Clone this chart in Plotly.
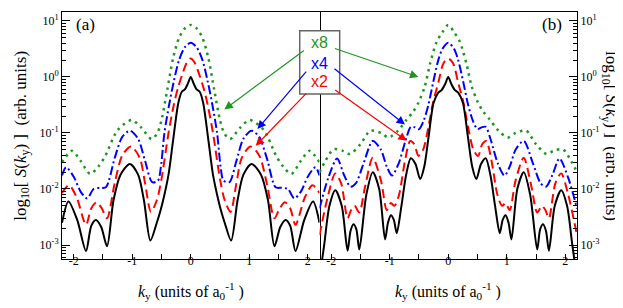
import plotly.graph_objects as go

# ---------------- Panel (a) data ----------------
ka_black = [-2.2, -2.09, -1.94, -1.79, -1.70, -1.62, -1.53, -1.43, -1.32, -1.2, -1.04, -0.9, -0.8, -0.69, -0.58, -0.52,
            -0.45, -0.38, -0.3, -0.21, -0.15, -0.1, -0.05, 0, 0.05, 0.1, 0.15, 0.21, 0.3, 0.38, 0.45, 0.52, 0.58, 0.69,
            0.8, 0.9, 1.04, 1.2, 1.32, 1.43, 1.53, 1.62, 1.70, 1.79, 1.94, 2.09, 2.2]
Sa_black = [2.5e-3, 6.0e-3, 2.8e-3, 7.8e-4, 2.2e-3, 2.8e-3, 2.1e-3, 9.5e-4, 6.3e-3, 1.8e-2, 2.8e-2, 1.8e-2, 6.3e-3,
            1.2e-3, 2.5e-3, 4.0e-3, 7.9e-3, 1.8e-2, 7.6e-2, 0.355, 0.55, 0.6, 0.76, 1.0, 0.76, 0.6, 0.55, 0.355,
            7.6e-2, 1.8e-2, 7.9e-3, 4.0e-3, 2.5e-3, 1.2e-3, 6.3e-3, 1.8e-2, 2.8e-2, 1.8e-2, 6.3e-3, 9.5e-4, 2.1e-3,
            2.8e-3, 2.2e-3, 7.8e-4, 2.8e-3, 6.0e-3, 2.5e-3]

ka_x2 = [-2.2, -2.08, -1.95, -1.79, -1.70, -1.61, -1.52, -1.43, -1.30, -1.17, -1.02, -0.87, -0.78, -0.68, -0.58, -0.5,
         -0.38, -0.29, -0.22, -0.14, -0.07, 0, 0.07, 0.14, 0.22, 0.29, 0.38, 0.5, 0.58, 0.68, 0.78, 0.87, 1.02, 1.17,
         1.30, 1.43, 1.52, 1.61, 1.70, 1.79, 1.95, 2.08, 2.2]
Sa_x2 = [8.5e-3, 1.17e-2, 7.1e-3, 2.3e-3, 4.5e-3, 5.8e-3, 4.5e-3, 3.0e-3, 1.26e-2, 3.98e-2, 5.75e-2, 3.55e-2, 1.26e-2,
         3.9e-3, 6.3e-3, 1.5e-2, 0.1, 0.316, 0.631, 1.15, 1.78, 2.14, 1.78, 1.15, 0.631, 0.316, 0.1, 1.5e-2, 6.3e-3,
         3.9e-3, 1.26e-2, 3.55e-2, 5.75e-2, 3.98e-2, 1.26e-2, 3.0e-3, 4.5e-3, 5.8e-3, 4.5e-3, 2.3e-3, 7.1e-3,
         1.17e-2, 8.5e-3]

ka_x4 = [-2.2, -2.13, -2.0, -1.88, -1.77, -1.66, -1.55, -1.45, -1.3, -1.17, -1.04, -0.9, -0.78, -0.66, -0.56, -0.51,
         -0.45, -0.37, -0.29, -0.2, -0.1, 0, 0.1, 0.2, 0.29, 0.37, 0.45, 0.51, 0.56, 0.66, 0.78, 0.9, 1.04, 1.17, 1.3,
         1.45, 1.55, 1.66, 1.77, 1.88, 2.0, 2.13, 2.2]
Sa_x4 = [1.74e-2, 2.45e-2, 1.66e-2, 8.9e-3, 6.8e-3, 1.0e-2, 1.05e-2, 1.07e-2, 3.55e-2, 8.5e-2, 0.11, 7.9e-2, 3.16e-2,
         1.32e-2, 1.41e-2, 2.5e-2, 0.1, 0.316, 0.83, 2.0, 3.4, 4.1, 3.4, 2.0, 0.83, 0.316, 0.1, 2.5e-2, 1.41e-2,
         1.32e-2, 3.16e-2, 7.9e-2, 0.11, 8.5e-2, 3.55e-2, 1.07e-2, 1.05e-2, 1.0e-2, 6.8e-3, 8.9e-3, 1.66e-2,
         2.45e-2, 1.74e-2]

ka_x8 = [-2.2, -2.03, -1.88, -1.72, -1.58, -1.46, -1.25, -1.01, -0.85, -0.67, -0.57, -0.5, -0.4, -0.3, -0.2, -0.1, 0,
         0.1, 0.2, 0.3, 0.4, 0.5, 0.57, 0.67, 0.85, 1.01, 1.25, 1.46, 1.58, 1.72, 1.88, 2.03, 2.2]
Sa_x8 = [3.0e-2, 4.8e-2, 3.16e-2, 1.86e-2, 2.5e-2, 3.9e-2, 0.112, 0.17, 0.126, 7.8e-2, 0.1, 0.17, 0.6, 2.2, 5.0, 7.4,
         8.5, 7.4, 5.0, 2.2, 0.6, 0.17, 0.1, 7.8e-2, 0.126, 0.17, 0.112, 3.9e-2, 2.5e-2, 1.86e-2, 3.16e-2, 4.8e-2,
         3.0e-2]

# ---------------- Panel (b) data ----------------
kb_black = [-2.2, -2.12, -2.03, -1.93, -1.82, -1.72, -1.67, -1.62, -1.57, -1.52, -1.40, -1.29, -1.18, -1.08, -1.03,
            -0.98, -0.93, -0.88, -0.80, -0.72, -0.64, -0.56, -0.48, -0.41, -0.34, -0.25, -0.17, -0.11, -0.05, 0,
            0.05, 0.11, 0.17, 0.25, 0.34, 0.41, 0.48, 0.56, 0.64, 0.72, 0.80, 0.88, 0.93, 0.98, 1.03, 1.08, 1.18,
            1.29, 1.40, 1.52, 1.57, 1.62, 1.67, 1.72, 1.82, 1.93, 2.03, 2.12, 2.2]
Sb_black = [2.5e-4, 1.0e-3, 5.0e-3, 9.5e-3, 5.0e-3, 7.9e-4, 1.78e-3, 2.34e-3, 1.9e-3, 8.3e-4, 7.9e-3, 2.0e-2, 1.0e-2,
            1.26e-3, 2.5e-3, 3.4e-3, 2.8e-3, 1.62e-3, 5.0e-3, 1.78e-2, 3.55e-2, 2.8e-2, 1.51e-2, 2.5e-2, 7.9e-2,
            0.347, 0.525, 0.59, 0.76, 1.0, 0.76, 0.59, 0.525, 0.347, 7.9e-2, 2.5e-2, 1.51e-2, 2.8e-2, 3.55e-2,
            1.78e-2, 5.0e-3, 1.62e-3, 2.8e-3, 3.4e-3, 2.5e-3, 1.26e-3, 1.0e-2, 2.0e-2, 7.9e-3, 8.3e-4, 1.9e-3,
            2.34e-3, 1.78e-3, 7.9e-4, 5.0e-3, 9.5e-3, 5.0e-3, 1.0e-3, 2.5e-4]

kb_x2 = [-2.2, -2.05, -1.93, -1.83, -1.72, -1.66, -1.6, -1.52, -1.42, -1.29, -1.15, -1.05, -0.98, -0.92, -0.84, -0.74,
         -0.65, -0.58, -0.51, -0.43, -0.34, -0.26, -0.17, -0.08, 0, 0.08, 0.17, 0.26, 0.34, 0.43, 0.51, 0.58, 0.65,
         0.74, 0.84, 0.92, 0.98, 1.05, 1.15, 1.29, 1.42, 1.52, 1.6, 1.66, 1.72, 1.83, 1.93, 2.05, 2.2]
Sb_x2 = [1.5e-3, 7.9e-3, 1.9e-2, 1.26e-2, 3.0e-3, 4.2e-3, 5.0e-3, 3.8e-3, 1.12e-2, 3.6e-2, 1.41e-2, 4.2e-3, 5.6e-3,
         5.0e-3, 7.9e-3, 3.16e-2, 7.2e-2, 6.3e-2, 3.9e-2, 5.0e-2, 0.126, 0.347, 0.79, 1.78, 2.14, 1.78, 0.79, 0.347,
         0.126, 5.0e-2, 3.9e-2, 6.3e-2, 7.2e-2, 3.16e-2, 7.9e-3, 5.0e-3, 5.6e-3, 4.2e-3, 1.41e-2, 3.6e-2, 1.12e-2,
         3.8e-3, 5.0e-3, 4.2e-3, 3.0e-3, 1.26e-2, 1.9e-2, 7.9e-3, 1.5e-3]

kb_x4 = [-2.2, -2.05, -1.90, -1.78, -1.67, -1.58, -1.45, -1.29, -1.15, -1.05, -0.96, -0.85, -0.72, -0.64, -0.57, -0.5,
         -0.42, -0.34, -0.26, -0.17, -0.1, 0, 0.1, 0.17, 0.26, 0.34, 0.42, 0.5, 0.57, 0.64, 0.72, 0.85, 0.96, 1.05,
         1.15, 1.29, 1.45, 1.58, 1.67, 1.78, 1.90, 2.05, 2.2]
Sb_x4 = [4.5e-3, 1.58e-2, 3.5e-2, 1.78e-2, 1.1e-2, 1.26e-2, 2.8e-2, 7.2e-2, 5.0e-2, 2.5e-2, 1.74e-2, 2.8e-2, 7.9e-2,
         0.129, 0.126, 0.117, 0.166, 0.316, 0.78, 2.0, 3.16, 4.1, 3.16, 2.0, 0.78, 0.316, 0.166, 0.117, 0.126, 0.129,
         7.9e-2, 2.8e-2, 1.74e-2, 2.5e-2, 5.0e-2, 7.2e-2, 2.8e-2, 1.26e-2, 1.1e-2, 1.78e-2, 3.5e-2, 1.58e-2, 4.5e-3]

kb_x8 = [-2.2, -2.1, -1.96, -1.8, -1.68, -1.5, -1.33, -1.15, -1.02, -0.85, -0.71, -0.6, -0.51, -0.4, -0.31, -0.2, -0.1,
         0, 0.1, 0.2, 0.31, 0.4, 0.51, 0.6, 0.71, 0.85, 1.02, 1.15, 1.33, 1.5, 1.68, 1.8, 1.96, 2.1, 2.2]
Sb_x8 = [2.0e-2, 3.16e-2, 5.1e-2, 4.8e-2, 4.2e-2, 6.3e-2, 0.11, 0.1, 8.3e-2, 0.112, 0.174, 0.24, 0.347, 0.68, 1.74,
         4.2, 6.3, 8.5, 6.3, 4.2, 1.74, 0.68, 0.347, 0.24, 0.174, 0.112, 8.3e-2, 0.1, 0.11, 6.3e-2, 4.2e-2, 4.8e-2,
         5.1e-2, 3.16e-2, 2.0e-2]

x_tickvals = [-2, -1, 0, 1, 2]
x_ticktext = ['-2', '-1', '0', '1', '2']
y_tickvals = [1e-3, 1e-2, 1e-1, 1, 10]
y_ticktext = ['10<sup>-3</sup>', '10<sup>-2</sup>', '10<sup>-1</sup>', '10<sup>0</sup>', '10<sup>1</sup>']
labels = ['x8', 'x4', 'x2']

GREEN = 'rgb(30,150,30)'
BLUE = 'rgb(0,0,255)'
RED = 'rgb(255,0,0)'
BLACK = 'black'
SERIF = 'Liberation Serif'

fig = go.Figure()


def add(x, y, color, dash, width, xa, ya):
    fig.add_trace(go.Scatter(x=x, y=y, mode='lines', xaxis=xa, yaxis=ya, showlegend=False, hoverinfo='skip',
                             line=dict(color=color, dash=dash, width=width, shape='spline', smoothing=0.8)))


for xa, ya, data in [('x', 'y', (ka_x8, Sa_x8, ka_x4, Sa_x4, ka_x2, Sa_x2, ka_black, Sa_black)),
                     ('x2', 'y2', (kb_x8, Sb_x8, kb_x4, Sb_x4, kb_x2, Sb_x2, kb_black, Sb_black))]:
    add(data[0], data[1], GREEN, '2.5px,4.5px', 2.5, xa, ya)
    add(data[2], data[3], BLUE, '9px,3px,2px,3px', 2, xa, ya)
    add(data[4], data[5], RED, '9px,5px', 2, xa, ya)
    add(data[6], data[7], BLACK, 'solid', 2, xa, ya)

minor_y = [m * 10.0 ** e for e in range(-4, 2) for m in range(2, 10)]
xr = [-2.2, 2.2]
yr = [-3.25, 1.16]

xcommon = dict(range=xr, showline=True, mirror=True, linecolor='black', linewidth=1, ticks='inside', ticklen=5,
               tickcolor='black', tickvals=x_tickvals, ticktext=x_ticktext, showgrid=False, zeroline=False,
               tickfont=dict(family=SERIF, size=12, color='black'), ticklabelstandoff=-9,
               minor=dict(tickvals=[-1.5, -0.5, 0.5, 1.5], ticks='inside', ticklen=5, tickcolor='black',
                          showgrid=False))
ycommon = dict(type='log', range=yr, showline=True, linecolor='black', linewidth=1, ticks='inside',
               ticklen=8, tickcolor='black', tickvals=y_tickvals, ticktext=y_ticktext, showgrid=False,
               zeroline=False, tickfont=dict(family=SERIF, size=12, color='black'),
               minor=dict(tickvals=minor_y, ticks='inside', ticklen=4, tickcolor='black', showgrid=False))

fig.update_layout(
    width=623, height=308, margin=dict(l=54, r=54, t=4, b=57),
    paper_bgcolor='white', plot_bgcolor='white', showlegend=False,
    xaxis=dict(domain=[0, 0.5], anchor='y', **xcommon),
    xaxis2=dict(domain=[0.5, 1], anchor='y2', **xcommon),
    yaxis=dict(domain=[0, 1], anchor='x', side='left', mirror=True, **ycommon),
    yaxis2=dict(domain=[0, 1], anchor='x2', side='right', mirror=False, **ycommon),
)

# box with labels
fig.add_shape(type='rect', xref='paper', yref='paper', x0=0.4616, x1=0.5392, y0=0.668, y1=0.924,
              fillcolor='white', line=dict(color='#666666', width=1.5), layer='above')

ann = []
for lab, col, yp in zip(labels, [GREEN, BLUE, RED], [0.8785, 0.7935, 0.7166]):
    ann.append(dict(xref='paper', yref='paper', x=0.5004, y=yp, text=lab, showarrow=False,
                    font=dict(family='Liberation Sans', size=16, color=col), xanchor='center', yanchor='middle'))

# arrows: head in data coords (log10 for y), tail offsets in pixels
arrows = [
    ('x', 'y', 0.575, -0.58, 81, -60, GREEN),
    ('x2', 'y2', -0.51, 0.0, -85, -29, GREEN),
    ('x', 'y', 1.14, -0.93, 50, -59, BLUE),
    ('x2', 'y2', -0.74, -0.85, -72, -57, BLUE),
    ('x', 'y', 1.11, -1.23, 52, -54, RED),
    ('x2', 'y2', -0.71, -1.14, -73, -52, RED),
]
for xr_, yr_, hx, hy, ax, ay, col in arrows:
    ann.append(dict(xref=xr_, yref=yr_, x=hx, y=hy, ax=ax, ay=ay, text='', showarrow=True, arrowhead=2,
                    arrowsize=1.4, arrowwidth=1.2, arrowcolor=col, standoff=0))

# panel labels
ann.append(dict(xref='paper', yref='paper', x=0.0466, y=0.951, text='(a)', showarrow=False,
                font=dict(family=SERIF, size=17, color='black'), xanchor='center', yanchor='middle'))
ann.append(dict(xref='paper', yref='paper', x=0.9515, y=0.951, text='(b)', showarrow=False,
                font=dict(family=SERIF, size=17, color='black'), xanchor='center', yanchor='middle'))

# axis titles
xt = '<i>k</i><sub>y</sub> (units of a<sub>0</sub><sup>-1</sup> )'
for xp in [0.251, 0.75]:
    ann.append(dict(xref='paper', yref='paper', x=xp, y=-0.13, text=xt, showarrow=False,
                    font=dict(family=SERIF, size=16, color='black'), xanchor='center', yanchor='middle'))
yt = 'log<sub>10</sub>[ <i>S</i>(<i>k</i><sub>y</sub>) ]  (arb. units)'
ann.append(dict(xref='paper', yref='paper', x=-0.078, y=0.498, text=yt, textangle=-90, showarrow=False,
                font=dict(family=SERIF, size=17, color='black'), xanchor='center', yanchor='middle'))
ann.append(dict(xref='paper', yref='paper', x=1.064, y=0.498, text=yt, textangle=90, showarrow=False,
                font=dict(family=SERIF, size=17, color='black'), xanchor='center', yanchor='middle'))

fig.update_layout(annotations=ann)
fig.write_html('out.html')
